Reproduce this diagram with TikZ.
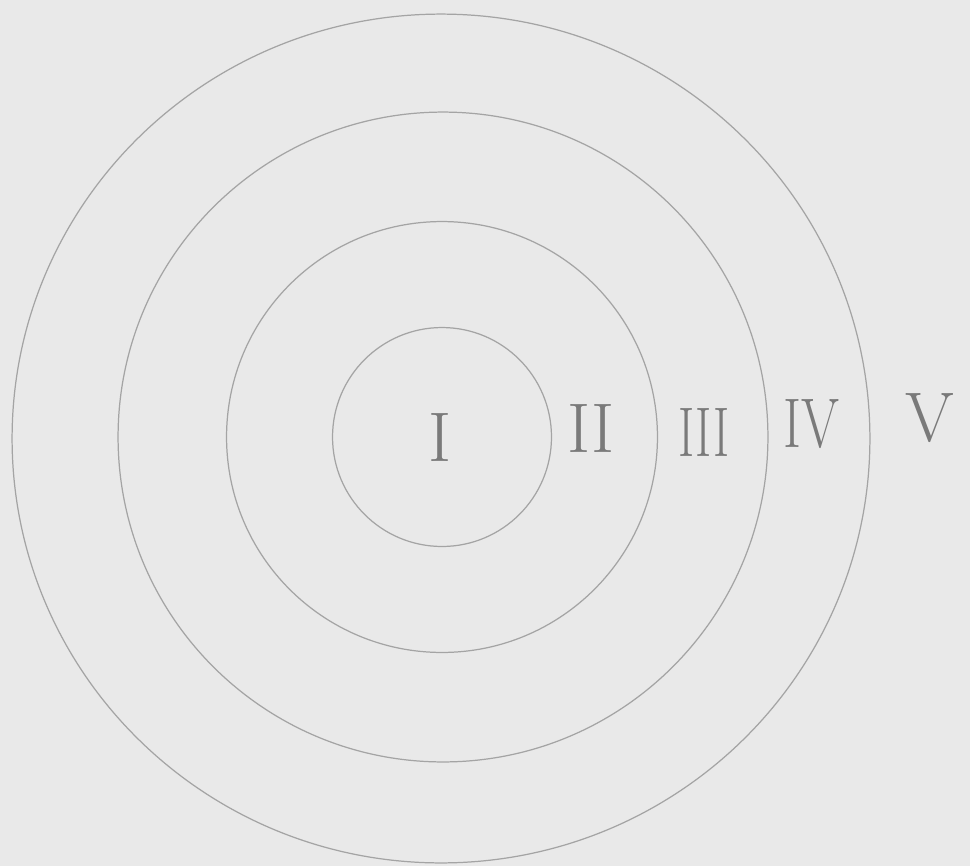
\documentclass[tikz,border=0pt]{standalone}
\usepackage{xcolor}
\usepackage{graphicx}
\usetikzlibrary{shapes.geometric}
\definecolor{paper}{HTML}{E9E9E9}
\definecolor{pencil}{HTML}{A4A4A4}
\definecolor{lead}{HTML}{7A7A7A}
\begin{document}
\begin{tikzpicture}[x=0.02cm,y=-0.02cm,
  ring/.style={circle,draw=pencil,line width=0.7pt,inner sep=0pt},
  oval/.style={ellipse,draw=pencil,line width=0.7pt,inner sep=0pt},
  numeral/.style={text=lead,font=\fontsize{40}{40}\selectfont,inner sep=0pt}]
\fill[paper] (0,0) rectangle (970,866);
\useasboundingbox (0,0) rectangle (970,866);
\node[ring,minimum size=4.38cm] (c1) at (442,437) {};
\node[ring,minimum size=8.62cm] (c2) at (442,437) {};
\node[ring,minimum size=13.0cm] (c3) at (443,437) {};
\node[oval,minimum width=17.16cm,minimum height=16.98cm] (c4) at (441,438.5) {};
\node[numeral] (n1) at (440,437) {I};
\node[numeral] (n2) at (591,428) {II};
\node[numeral] (n3) at (704,432) {\scalebox{0.7}[1]{III}};
\node[numeral] (n4) at (811,424) {\scalebox{0.78}[1]{IV}};
\node[numeral] (n5) at (930,418) {V};
\end{tikzpicture}
\end{document}
